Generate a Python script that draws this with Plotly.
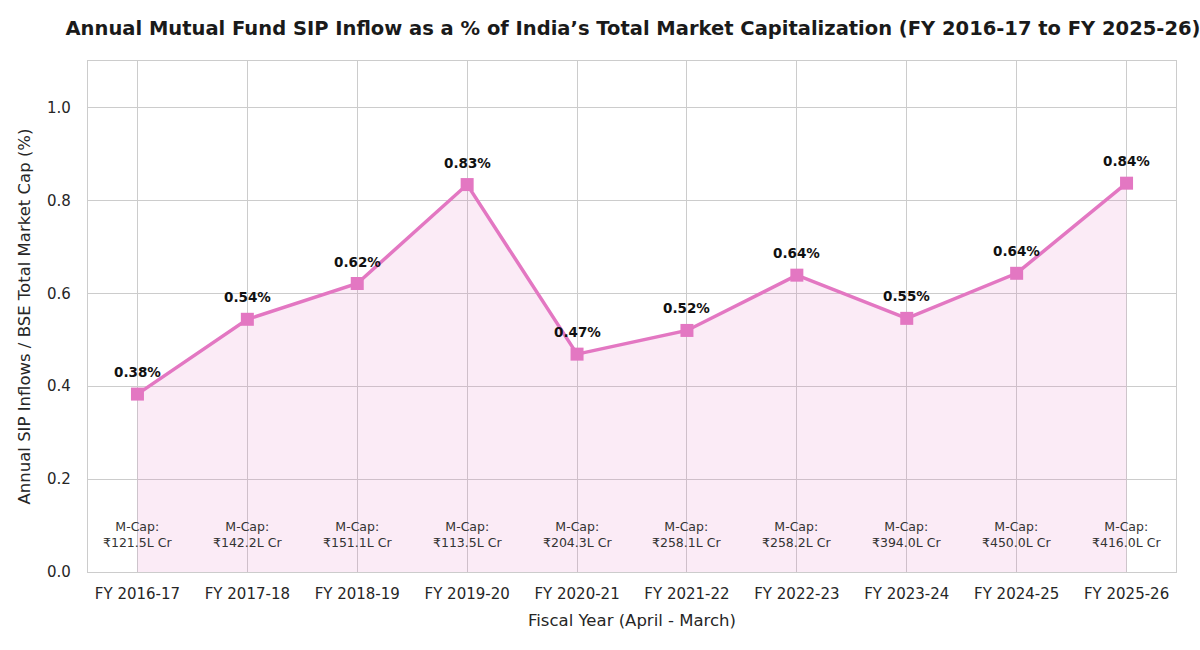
import plotly.graph_objects as go

years = ["FY 2016-17", "FY 2017-18", "FY 2018-19", "FY 2019-20", "FY 2020-21",
         "FY 2021-22", "FY 2022-23", "FY 2023-24", "FY 2024-25", "FY 2025-26"]
sip_pct = [0.383, 0.544, 0.621, 0.834, 0.469, 0.520, 0.639, 0.546, 0.643, 0.837]
pct_labels = ["0.38%", "0.54%", "0.62%", "0.83%", "0.47%", "0.52%", "0.64%", "0.55%", "0.64%", "0.84%"]
mcap_labels = ["₹121.5L Cr", "₹142.2L Cr", "₹151.1L Cr", "₹113.5L Cr", "₹204.3L Cr",
               "₹258.1L Cr", "₹258.2L Cr", "₹394.0L Cr", "₹450.0L Cr", "₹416.0L Cr"]

xs = list(range(len(years)))
pink = "#e377c2"
font = "DejaVu Sans"

fig = go.Figure()
fig.add_trace(go.Scatter(
    x=xs, y=sip_pct, mode="lines+markers",
    line=dict(color=pink, width=3.5),
    marker=dict(symbol="square", size=13, color=pink),
    fill="tozeroy", fillcolor="rgba(227,119,194,0.15)",
    hoverinfo="skip", showlegend=False,
))

for x, y, t in zip(xs, sip_pct, pct_labels):
    fig.add_annotation(x=x, y=y, text="<b>" + t + "</b>", showarrow=False,
                       yshift=22, font=dict(family=font, size=13.5, color="#111111"))
for x, t in zip(xs, mcap_labels):
    fig.add_annotation(x=x, y=0.08, text="M-Cap:<br>" + t, showarrow=False,
                       font=dict(family=font, size=12.5, color="#333333"))

fig.update_layout(
    width=1200, height=650,
    margin=dict(l=88, r=24, t=61, b=78),
    paper_bgcolor="white", plot_bgcolor="white",
    font=dict(family=font, size=15, color="#262626"),
    title=dict(text="<b>Annual Mutual Fund SIP Inflow as a % of India’s Total Market Capitalization (FY 2016-17 to FY 2025-26)</b>",
               x=633 / 1200, xref="container", y=1 - 28 / 650, yref="container",
               yanchor="middle", xanchor="center",
               font=dict(family=font, size=19.5, color="#1a1a1a")),
    xaxis=dict(range=[-0.45, 9.45], tickvals=xs, ticktext=years,
               showgrid=True, gridcolor="#cccccc", gridwidth=1,
               showline=True, linecolor="#cccccc", linewidth=1.3, mirror=True,
               zeroline=False, ticks="", ticklabelstandoff=8,
               tickfont=dict(size=15, color="#262626"),
               title=dict(text="Fiscal Year (April - March)", standoff=12,
                          font=dict(size=16.5, color="#262626"))),
    yaxis=dict(range=[0, 1.1], tickvals=[0, 0.2, 0.4, 0.6, 0.8, 1.0], tickformat=".1f",
               showgrid=True, gridcolor="#cccccc", gridwidth=1,
               showline=True, linecolor="#cccccc", linewidth=1.3, mirror=True,
               zeroline=False, ticks="", ticklabelstandoff=13,
               tickfont=dict(size=15, color="#262626"),
               title=dict(text="Annual SIP Inflows / BSE Total Market Cap (%)", standoff=12,
                          font=dict(size=16.5, color="#262626"))),
)

fig.write_html("out.html")
